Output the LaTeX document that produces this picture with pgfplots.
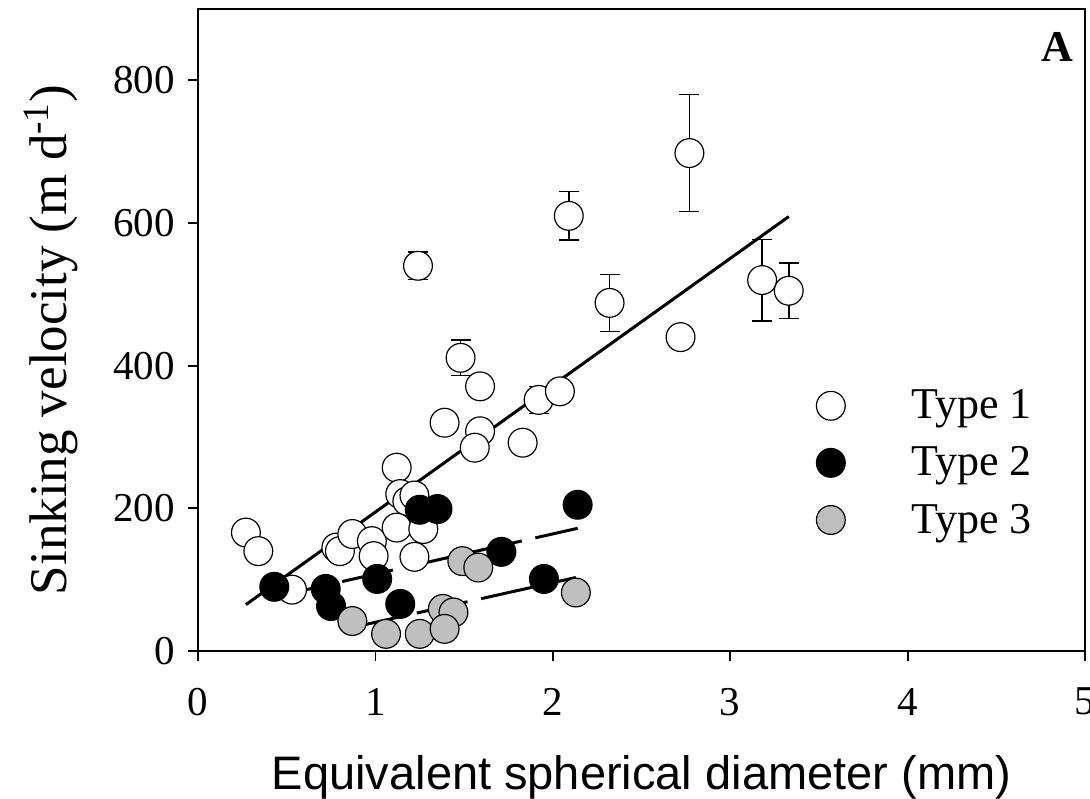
\documentclass[border=0pt]{standalone}
\usepackage{fontspec}
\setmainfont{Liberation Serif}
\newfontfamily\arial{Liberation Sans}
\usepackage{pgfplots}
\pgfplotsset{compat=1.18}
\usetikzlibrary{calc}

% Type 1: x, y, error (upper = lower)
\pgfplotstableread{
x    y    e
0.27 166  0
0.34 140  0
0.53 86   0
0.78 145  0
0.80 140  0
0.87 164  0
0.98 154  0
0.99 133  0
1.12 257  0
1.14 220  0
1.18 210  0
1.22 218  0
1.12 173  0
1.27 171  0
1.22 132  0
1.39 320  0
1.59 308  0
1.56 285  0
1.83 292  0
1.59 371  0
1.92 352  19
2.04 364  0
1.24 540  19
1.48 411  25
2.09 610  34
2.77 698  82
2.32 488  40
2.72 440  0
3.18 520  57
3.33 505  39
}\typeone

\pgfplotstableread{
x    y
0.43 90
0.72 87
0.75 63
1.01 101
1.14 66
1.25 198
1.35 199
1.71 139
1.95 101
2.14 205
}\typetwo

\pgfplotstableread{
x    y
0.87 42
1.06 24
1.25 24
1.38 59
1.44 54
1.39 31
1.49 126
1.58 117
2.13 82
}\typethree

\begin{document}
\begin{tikzpicture}
\begin{axis}[
  name=ax,
  scale only axis,
  width=443.5pt, height=321pt,
  xmin=0, xmax=5, ymin=0, ymax=900,
  xtick={0,1,2,3,4,5},
  ytick={0,200,400,600,800},
  xtick pos=bottom, ytick pos=left,
  tick align=outside,
  major tick length=5pt,
  axis line style={line width=0.9pt},
  every tick/.style={black, line width=0.9pt},
  /pgf/number format/assume math mode=true,
  tick label style={font=\fontsize{20.5}{22}\selectfont},
  xticklabel style={yshift=-10pt},
  yticklabel style={xshift=-3pt},
  ylabel={Sinking velocity (m d\textsuperscript{-1})},
  ylabel style={font=\fontsize{26.5}{29}\selectfont, yshift=11pt, xshift=-5pt},
  xlabel={Equivalent spherical diameter (mm)},
  xlabel style={font=\arial\fontsize{23.5}{26}\selectfont, yshift=-13pt},
  legend style={draw=none, fill=none, at={(0.69,0.42)}, anchor=north west,
    font=\fontsize{22}{24}\selectfont, row sep=8.5pt,
    /tikz/every odd column/.append style={column sep=31pt}},
  legend cell align=left,
  every axis plot/.append style={line width=0.6pt},
]
\addplot[only marks, mark=*, mark size=7.2pt, draw=black, fill=white,
  error bars/.cd, y dir=both, y explicit,
  error bar style={line width=0.8pt, black},
  error mark options={rotate=90, mark size=5pt, line width=0.8pt, black}]
  table[x=x, y=y, y error=e] {\typeone};
\addplot[only marks, mark=*, mark size=7.2pt, draw=black, fill=black]
  table[x=x, y=y] {\typetwo};
\addplot[only marks, mark=*, mark size=7.2pt, draw=black, fill=black!25]
  table[x=x, y=y] {\typethree};
\legend{Type 1, Type 2, Type 3}
% regression lines
\addplot[forget plot, black, line width=1.5pt] coordinates {(0.27,65) (3.33,609)};
\addplot[forget plot, black, line width=1.5pt, dash pattern=on 26pt off 7pt] coordinates {(0.45,77) (2.14,172)};
\addplot[forget plot, black, line width=1.5pt, dash pattern=on 26pt off 7pt] coordinates {(0.87,33) (2.13,103)};
\node[anchor=north east, font=\bfseries\fontsize{22}{24}\selectfont] at (rel axis cs:0.995,0.975) {A};
\end{axis}
\pgfresetboundingbox
\path[use as bounding box] ($(ax.south west)+(-99pt,-74pt)$) rectangle ($(ax.north east)+(2.5pt,4.5pt)$);
\end{tikzpicture}
\end{document}
